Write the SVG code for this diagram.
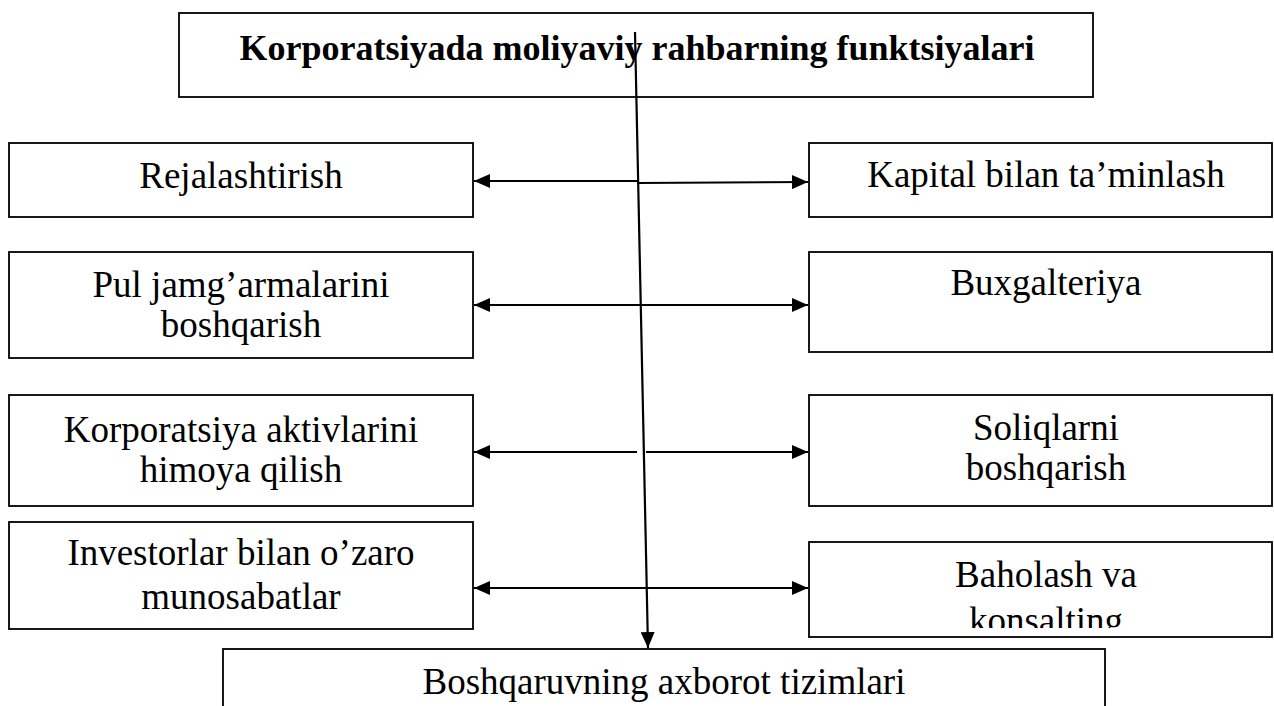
<svg xmlns="http://www.w3.org/2000/svg" width="1274" height="706" viewBox="0 0 1274 706">
  <style>
    .box { fill: #ffffff; stroke: #000000; stroke-width: 1.8; }
    .lbl { font-family: "Liberation Serif", "Times New Roman", serif; font-size: 37px; fill: #000000; text-anchor: middle; }
    .title { font-family: "Liberation Serif", "Times New Roman", serif; font-size: 36px; font-weight: bold; fill: #000000; text-anchor: middle; }
    .conn { fill: none; stroke: #000000; stroke-width: 2.2; }
  </style>
  <defs>
    <marker id="head" markerUnits="userSpaceOnUse" markerWidth="17" markerHeight="14" refX="16" refY="7" orient="auto-start-reverse">
      <path d="M0,0 L16,7 L0,14 Z" fill="#000000"/>
    </marker>
    <clipPath id="clipBaholash">
      <rect x="809" y="545" width="463" height="83"/>
    </clipPath>
  </defs>

  <rect width="1274" height="706" fill="#ffffff"/>

  <g id="title">
    <rect class="box" x="179" y="13" width="914" height="84"/>
    <text class="title" x="637" y="60">Korporatsiyada moliyaviy rahbarning funktsiyalari</text>
  </g>

  <g id="rejalashtirish">
    <rect class="box" x="9" y="143" width="464" height="74"/>
    <text class="lbl" x="241" y="188">Rejalashtirish</text>
  </g>
  <g id="pul">
    <rect class="box" x="9" y="252" width="464" height="106"/>
    <text class="lbl" x="241" y="297">Pul jamg’armalarini</text>
    <text class="lbl" x="241" y="337">boshqarish</text>
  </g>
  <g id="aktivlar">
    <rect class="box" x="9" y="395" width="464" height="111"/>
    <text class="lbl" x="241" y="442">Korporatsiya aktivlarini</text>
    <text class="lbl" x="241" y="482">himoya qilish</text>
  </g>
  <g id="investorlar">
    <rect class="box" x="9" y="522" width="464" height="107"/>
    <text class="lbl" x="241" y="565">Investorlar bilan o’zaro</text>
    <text class="lbl" x="241" y="609">munosabatlar</text>
  </g>

  <g id="kapital">
    <rect class="box" x="809" y="143" width="463" height="74"/>
    <text class="lbl" x="1046" y="187">Kapital bilan ta’minlash</text>
  </g>
  <g id="buxgalteriya">
    <rect class="box" x="809" y="252" width="463" height="100"/>
    <text class="lbl" x="1046" y="295">Buxgalteriya</text>
  </g>
  <g id="soliqlar">
    <rect class="box" x="809" y="395" width="463" height="111"/>
    <text class="lbl" x="1046" y="440">Soliqlarni</text>
    <text class="lbl" x="1046" y="480">boshqarish</text>
  </g>
  <g id="baholash">
    <rect class="box" x="809" y="542" width="463" height="95"/>
    <text class="lbl" x="1046" y="587">Baholash va</text>
    <text class="lbl" x="1046" y="633" clip-path="url(#clipBaholash)">konsalting</text>
  </g>

  <g id="axborot">
    <rect class="box" x="223" y="649" width="882" height="80"/>
    <text class="lbl" x="664" y="694">Boshqaruvning axborot tizimlari</text>
  </g>

  <g id="connectors">
    <!-- trunk from the title down to the information systems box -->
    <line class="conn" x1="635" y1="32" x2="648" y2="648" marker-end="url(#head)"/>
    <!-- row 1 -->
    <path class="conn" d="M637,181 L474,181" marker-end="url(#head)"/>
    <path class="conn" d="M637,183 L808,182" marker-end="url(#head)"/>
    <!-- row 2 -->
    <line class="conn" x1="474" y1="305" x2="808" y2="305" marker-start="url(#head)" marker-end="url(#head)"/>
    <!-- row 3, split around the trunk -->
    <line class="conn" x1="637" y1="452" x2="474" y2="452" marker-end="url(#head)"/>
    <line class="conn" x1="646" y1="452" x2="808" y2="452" marker-end="url(#head)"/>
    <!-- row 4 -->
    <line class="conn" x1="474" y1="588" x2="808" y2="588" marker-start="url(#head)" marker-end="url(#head)"/>
  </g>
</svg>
